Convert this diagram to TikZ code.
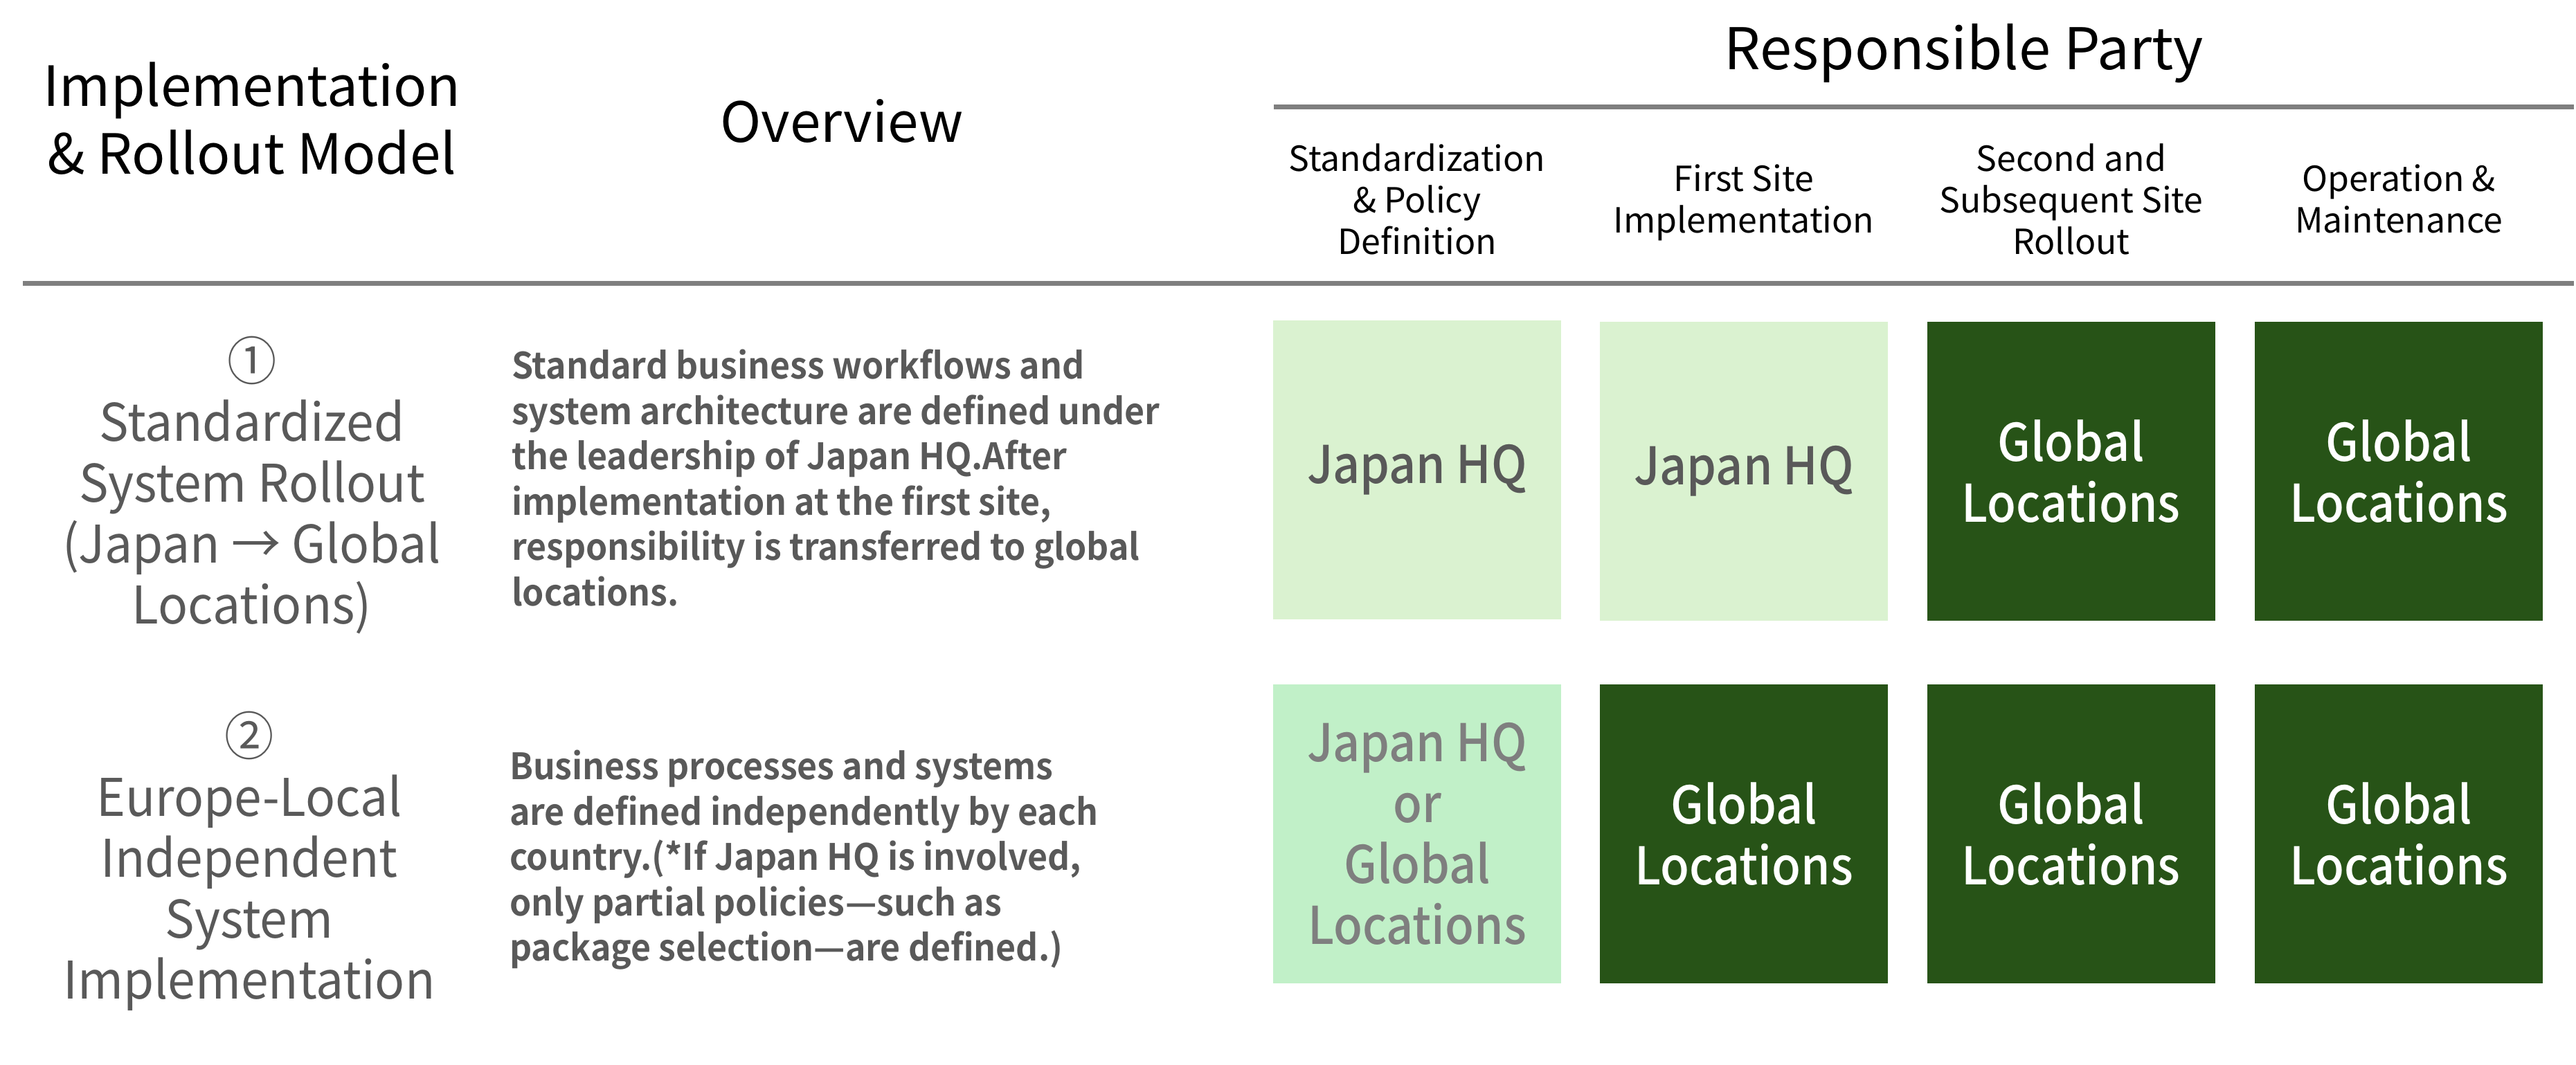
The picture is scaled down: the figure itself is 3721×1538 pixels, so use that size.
\documentclass[tikz,border=0pt]{standalone}
\usepackage{fontspec}
\setmainfont{Noto Sans CJK JP}
\newfontfamily\boxfont{Noto Sans CJK JP}[UprightFont={* Medium},FakeStretch=0.91]
\newfontfamily\overfont{Noto Sans CJK JP}[UprightFont={* Bold},FakeStretch=0.952]
\newfontfamily\labelfont{Noto Sans CJK JP}[FakeStretch=0.95]
\definecolor{lightg}{HTML}{DAF2D0}
\definecolor{midg}{HTML}{C1F0C8}
\definecolor{darkg}{HTML}{275317}
\definecolor{txtgray}{HTML}{595959}
\definecolor{txtgray2}{HTML}{7F7F7F}
\definecolor{rulegray}{HTML}{7F7F7F}
\tikzset{
  x=0.2pt,y=-0.2pt,
  topstrut/.style={execute at begin node={\rule{0pt}{1em}}},
  bighead/.style={inner sep=0pt,align=center,anchor=north,font=\fontsize{16}{19.6}\selectfont,text=black,topstrut},
  colhead/.style={inner sep=0pt,align=center,anchor=north,font=\fontsize{10}{12}\selectfont,text=black,topstrut},
  rowlabel/.style={inner sep=0pt,align=center,anchor=north,font=\labelfont\fontsize{15}{17.6}\selectfont,text=txtgray,topstrut},
  overtext/.style={inner sep=0pt,align=left,anchor=north west,font=\overfont\fontsize{10.5}{13.1}\selectfont,text=txtgray,topstrut},
  cell/.style={inner sep=0pt,minimum width=83.2pt,minimum height=86.4pt,align=center,font=\boxfont\fontsize{15}{17.6}\selectfont},
  lightcell/.style={cell,fill=lightg,text=txtgray},
  midcell/.style={cell,fill=midg,text=txtgray2},
  darkcell/.style={cell,fill=darkg,text=white},
  rulerline/.style={draw=rulegray,line width=1.4pt}
}
\begin{document}
\begin{tikzpicture}
\useasboundingbox (0,0) rectangle (3721,1538);
% header texts
\node[bighead] (hmodel) at (364,89) {Implementation\\\& Rollout Model};
\node[bighead] (hover) at (1216,124) {Overview};
\node[bighead,font=\fontsize{16.6}{19.6}\selectfont] (hresp) at (2837,16) {Responsible Party};
% rules
\coordinate (r1a) at (1840,154);
\coordinate (r1b) at (3718,154);
\coordinate (r2a) at (33,409);
\coordinate (r2b) at (3718,409);
\draw[rulerline] (r1a) -- (r1b);
\draw[rulerline] (r2a) -- (r2b);
% column headers
\node[colhead] (c1) at (2047,207) {Standardization\\\& Policy\\Definition};
\node[colhead] (c2) at (2519,237) {First Site\\Implementation};
\node[colhead] (c3) at (2992,207) {Second and\\Subsequent Site\\Rollout};
\node[colhead] (c4) at (3465,237) {Operation \&\\Maintenance};
% row labels
\node[rowlabel] (l1) at (364,485) {①\\Standardized\\System Rollout\\(Japan → Global\\Locations)};
\node[rowlabel] (l2) at (360,1027) {②\\Europe-Local\\Independent\\System\\Implementation};
% overview texts
\node[overtext] (o1) at (738,504) {Standard business workflows and\\system architecture are defined under\\the leadership of Japan HQ.After\\implementation at the first site,\\responsibility is transferred to global\\locations.};
\node[overtext] (o2) at (735,1083) {Business processes and systems\\are defined independently by each\\country.(*If Japan HQ is involved,\\only partial policies—such as\\package selection—are defined.)};
% cells row 1
\node[lightcell] (a1) at (2047,679) {Japan HQ};
\node[lightcell] (a2) at (2519,681) {Japan HQ};
\node[darkcell] (a3) at (2991.5,681) {Global\\Locations};
\node[darkcell] (a4) at (3465,681) {Global\\Locations};
% cells row 2
\node[midcell] (b1) at (2047,1205) {Japan HQ\\or\\Global\\Locations};
\node[darkcell] (b2) at (2519,1205) {Global\\Locations};
\node[darkcell] (b3) at (2991.5,1205) {Global\\Locations};
\node[darkcell] (b4) at (3465,1205) {Global\\Locations};
\end{tikzpicture}
\end{document}
